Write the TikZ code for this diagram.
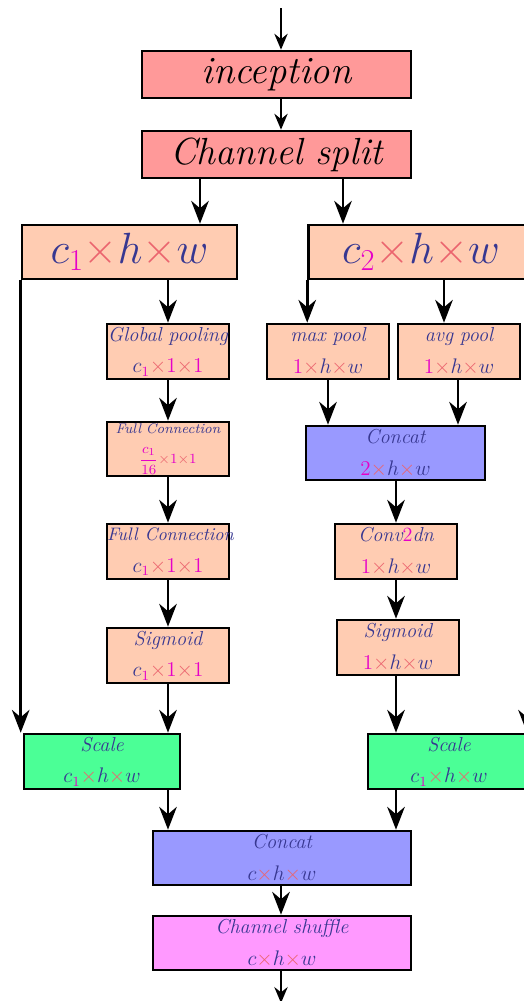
\documentclass[tikz,border=0pt]{standalone}
\usetikzlibrary{arrows.meta}
\definecolor{tblue}{RGB}{55,55,145}
\definecolor{xred}{RGB}{235,100,110}
\definecolor{mag}{RGB}{230,0,200}
\definecolor{redfill}{RGB}{255,153,153}
\definecolor{peach}{RGB}{255,204,178}
\definecolor{bluefill}{RGB}{153,153,255}
\definecolor{greenfill}{RGB}{75,255,150}
\definecolor{pinkfill}{RGB}{255,153,255}
\newcommand{\xx}{{\color{xred}\times}}
\newcommand{\mo}{{\color{mag}1}}
\newcommand{\cone}{c_{\color{mag}1}}
\tikzset{
  box/.style={draw=black, line width=1.5pt, inner sep=0pt, align=center, text=tblue,
    text width=2.44cm, font=\fontsize{11.5}{18}\selectfont\itshape},
  bigbox/.style={draw=black, line width=1.5pt, inner sep=0pt, align=center,
    font=\fontsize{22}{26}\selectfont\itshape},
  arr/.style={line width=1.5pt, -{Stealth[length=13pt,width=10pt]}},
  sarr/.style={line width=1.5pt, -{Stealth[length=9pt,width=7.5pt]}},
}
\begin{document}
\begin{tikzpicture}[x=0.02cm,y=-0.02cm]
\useasboundingbox (0,0) rectangle (524,1001);
\clip (0,0) rectangle (524,1001);
% top
\node[bigbox, fill=redfill, minimum width=5.38cm, minimum height=0.94cm] (inc) at (276.5,74.5) {inception};
\node[bigbox, fill=redfill, minimum width=5.38cm, minimum height=0.94cm, font=\fontsize{21.5}{26}\selectfont\itshape] (split) at (276.5,154.5) {Channel split};
\node[bigbox, fill=peach, text=tblue, font=\fontsize{25}{28}\selectfont, minimum width=4.3cm, minimum height=1.08cm] (c1) at (129.5,252) {$\cone\xx h\xx w$};
\node[bigbox, fill=peach, text=tblue, font=\fontsize{25}{28}\selectfont, minimum width=4.5cm, minimum height=1.08cm] (c2) at (421,252) {$c_{\color{mag}2}\xx h\xx w$};
% left branch
\node[box, fill=peach, minimum width=2.44cm, minimum height=1.1cm] (gp) at (168,351.5) {\mbox{Global pooling}\\$\cone\xx\mo\xx\mo$};
\node[box, fill=peach, minimum width=2.44cm, minimum height=1.08cm, font=\fontsize{8}{17}\selectfont\itshape] (fc1) at (168,449) {\mbox{Full Connection}\\${\color{mag}\displaystyle\frac{c_1}{16}}\xx\mo\xx\mo$};
\node[box, fill=peach, minimum width=2.44cm, minimum height=1.1cm] (fc2) at (168,551.5) {\mbox{\fontsize{10.3}{18}\selectfont Full Connection}\\$\cone\xx\mo\xx\mo$};
\node[box, fill=peach, minimum width=2.44cm, minimum height=1.1cm] (sig1) at (168,655.5) {Sigmoid\\$\cone\xx\mo\xx\mo$};
\node[box, fill=greenfill, text width=3.12cm, minimum width=3.12cm, minimum height=1.1cm] (sc1) at (102,761.5) {Scale\\$\cone\xx h\xx w$};
% right branch
\node[box, fill=peach, minimum width=2.44cm, minimum height=1.1cm] (maxp) at (328,351.5) {max pool\\$\mo\xx h\xx w$};
\node[box, fill=peach, minimum width=2.44cm, minimum height=1.1cm] (avgp) at (459,351.5) {avg pool\\$\mo\xx h\xx w$};
\node[box, fill=bluefill, text width=3.58cm, minimum width=3.58cm, minimum height=1.08cm] (cc1) at (395.5,453) {Concat\\${\color{mag}2}\xx h\xx w$};
\node[box, fill=peach, minimum width=2.44cm, minimum height=1.1cm] (conv) at (396,551.5) {Conv{\upshape\color{mag}2}dn\\$\mo\xx h\xx w$};
\node[box, fill=peach, minimum width=2.44cm, minimum height=1.1cm] (sig2) at (398,647.5) {Sigmoid\\$\mo\xx h\xx w$};
\node[box, fill=greenfill, text width=3.12cm, minimum width=3.24cm, minimum height=1.1cm] (sc2) at (449,761.5) {Scale\\$\cone\xx h\xx w$};
% bottom
\node[box, fill=bluefill, text width=5.16cm, minimum width=5.16cm, minimum height=1.08cm] (cc2) at (282,858) {Concat\\$c\xx h\xx w$};
\node[box, fill=pinkfill, text width=5.16cm, minimum width=5.16cm, minimum height=1.08cm] (sh) at (282,943) {\mbox{Channel shuffle}\\$c\xx h\xx w$};
\coordinate (in) at (281,8);
\coordinate (out) at (281,1003);
% connectors
\draw[sarr] (in) -- (in |- inc.north);
\draw[sarr] (281,0 |- inc.south) -- (281,0 |- split.north);
\draw[arr] (200,0 |- split.south) -- (200,0 |- c1.north);
\draw[arr] (343,0 |- split.south) -- (343,0 |- c2.north);
\draw[arr] (c1.south west) -- (c1.south west |- sc1.north);
\draw[arr] (168,0 |- c1.south) -- (gp.north);
\draw[arr] (gp) -- (fc1);
\draw[arr] (fc1) -- (fc2);
\draw[arr] (fc2) -- (sig1);
\draw[arr] (sig1.south) -- (168,0 |- sc1.north);
\draw[arr] (c2.south west) -- (c2.south west |- maxp.north);
\draw[arr] (444,0 |- c2.south) -- (444,0 |- avgp.north);
\draw[arr] (maxp.south) -- (328,0 |- cc1.north);
\draw[arr] (458,0 |- avgp.south) -- (458,0 |- cc1.north);
\draw[arr] (396,0 |- cc1.south) -- (conv.north);
\draw[arr] (conv.south) -- (396,0 |- sig2.north);
\draw[arr] (396,0 |- sig2.south) -- (396,0 |- sc2.north);
\draw[arr] (527,0 |- c2.south) -- (527,0 |- sc2.north);
\draw[arr] (168,0 |- sc1.south) -- (168,0 |- cc2.north);
\draw[arr] (396,0 |- sc2.south) -- (396,0 |- cc2.north);
\draw[arr] (281,0 |- cc2.south) -- (281,0 |- sh.north);
\draw[sarr] (281,0 |- sh.south) -- (out);
\end{tikzpicture}
\end{document}
